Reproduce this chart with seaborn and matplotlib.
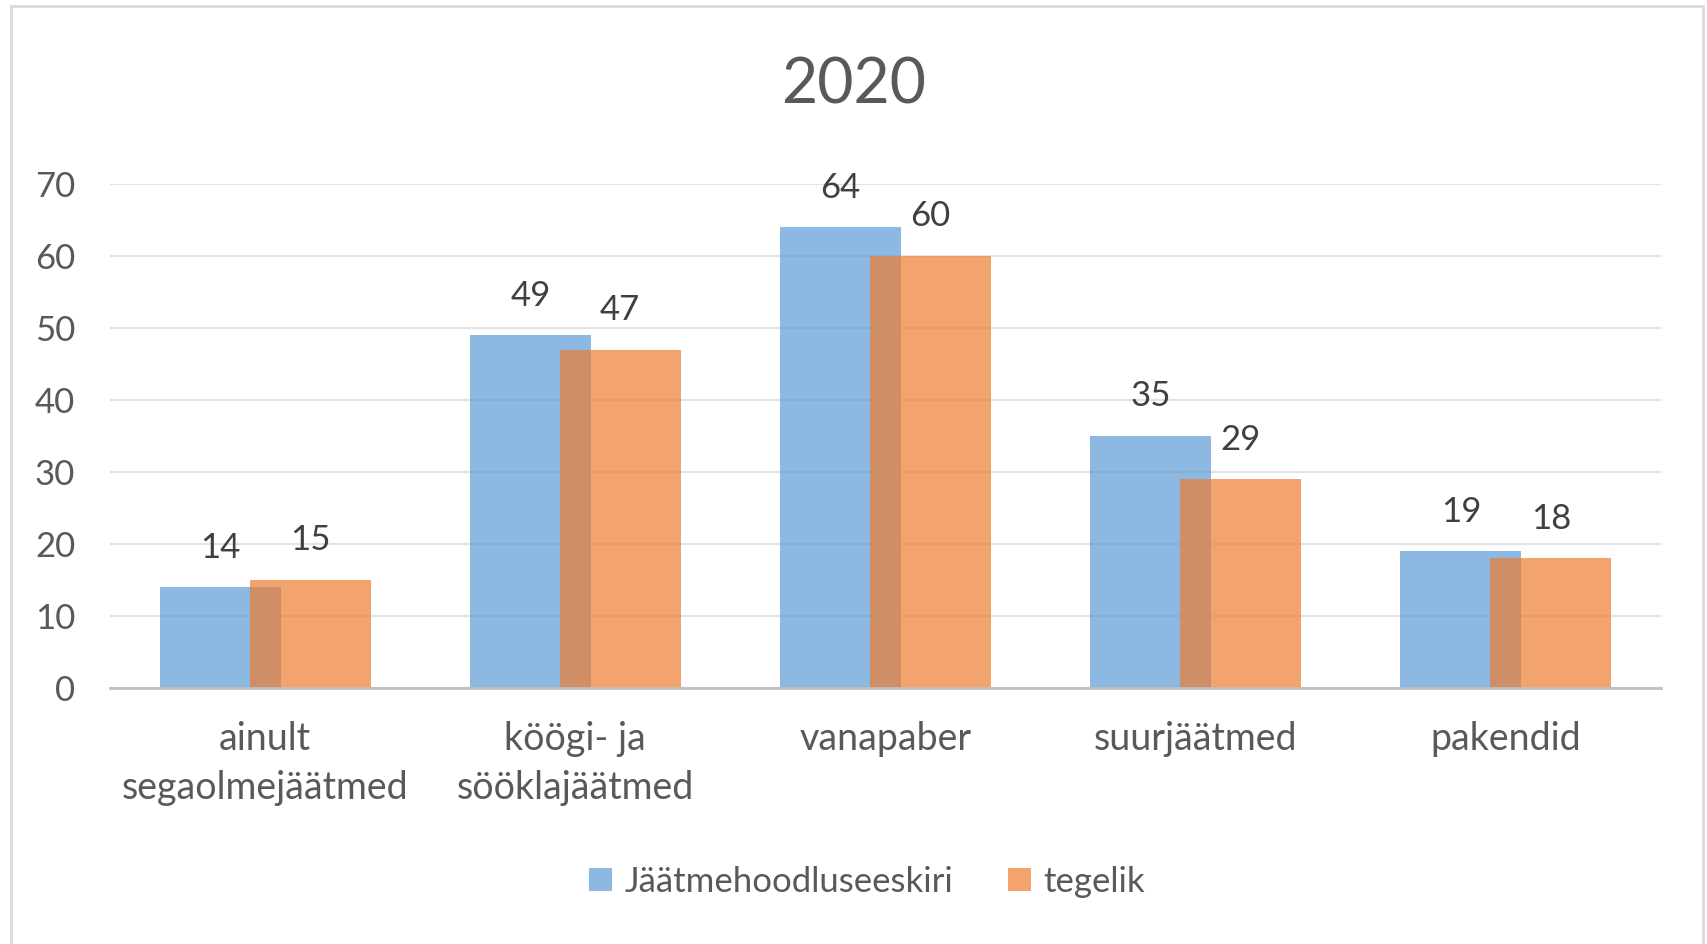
import numpy as np
import pandas as pd
import seaborn as sns
import matplotlib.pyplot as plt
from matplotlib.patches import Rectangle

# Andmed
categories = ["ainult\nsegaolmejäätmed", "köögi- ja\nsööklajäätmed", "vanapaber",
              "suurjäätmed", "pakendid"]
series = ["Jäätmehoodluseeskiri", "tegelik"]
eeskiri = [14, 49, 64, 35, 19]
tegelik = [15, 47, 60, 29, 18]
title = "2020"
y_ticks = [0, 10, 20, 30, 40, 50, 60, 70]

colors = {"Jäätmehoodluseeskiri": "#5B9BD5", "tegelik": "#ED7D31"}
text_color = "#595959"

df = pd.DataFrame({
    "kategooria": categories * 2,
    "seeria": [series[0]] * len(categories) + [series[1]] * len(categories),
    "väärtus": eeskiri + tegelik,
})

sns.set_theme(style="white")
plt.rcParams["font.family"] = ["Lato", "DejaVu Sans"]

fig = plt.figure(figsize=(17.07, 9.44), dpi=100)
ax = fig.add_axes([110 / 1707, 1 - 688 / 944, 1551 / 1707, 504 / 944])

sns.barplot(
    data=df, x="kategooria", y="väärtus", hue="seeria",
    order=categories, hue_order=series, palette=colors,
    width=0.78, dodge=True, saturation=1, alpha=0.7, linewidth=0, ax=ax,
)

# Excel-like overlap: pull the two series towards each other
n = len(categories)
for i, p in enumerate(ax.patches[: 2 * n]):
    shift = 0.05 if i < n else -0.05
    p.set_x(p.get_x() + shift)

for cont in ax.containers:
    ax.bar_label(cont, fmt="%d", padding=17, fontsize=25, color="#404040")

ax.set_ylim(0, 70)
ax.set_xlim(-0.5, n - 0.5)
ax.set_yticks(y_ticks)
ax.set(xlabel=None, ylabel=None)
ax.set_axisbelow(True)
ax.yaxis.grid(True, color="#E3E3E3", linewidth=1.6)
ax.xaxis.grid(False)
for s in ["top", "right", "left"]:
    ax.spines[s].set_visible(False)
ax.spines["bottom"].set_color("#BFBFBF")
ax.spines["bottom"].set_linewidth(2)
ax.tick_params(axis="y", length=0, pad=25, labelsize=25, labelcolor=text_color)
ax.tick_params(axis="x", length=0, pad=24, labelsize=27, labelcolor=text_color)
for lab in ax.get_xticklabels():
    lab.set_linespacing(1.45)

handles, labels = ax.get_legend_handles_labels()
ax.get_legend().remove()
fig.legend(
    handles, labels, loc="center", bbox_to_anchor=(0.508, 1 - 882 / 944),
    ncol=2, frameon=False, fontsize=25, labelcolor=text_color,
    handlelength=0.65, handleheight=0.65, handletextpad=0.35, columnspacing=1.6,
)

fig.text(0.5, 1 - 85 / 944, title, ha="center", va="center",
         fontsize=45, color=text_color)

# chart border
fig.patches.append(Rectangle(
    (11 / 1707, -0.1), (1703 - 11) / 1707, 1.1 - 6 / 944,
    transform=fig.transFigure, fill=False, edgecolor="#D9D9D9",
    linewidth=2, zorder=0,
))

fig.savefig("out.png", dpi=100, facecolor="white")
